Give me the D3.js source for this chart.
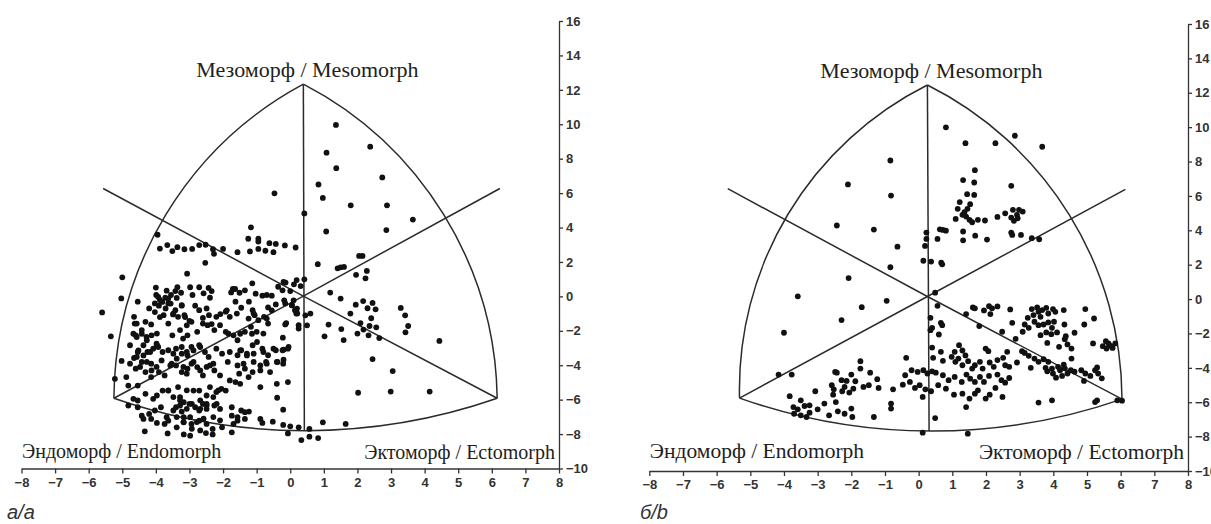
<!DOCTYPE html>
<head>
    <meta charset="utf-8">
    <title>Somatochart</title>
    <style>
        body { margin: 0; background: #fff; }
        .axis text { font-family: "Liberation Sans Narrow", "Liberation Sans", Arial, sans-serif; font-size: 13px; font-weight: bold; fill: #333; }
        .axis path, .axis line { stroke: #333; stroke-width: 1.3; }
        .frame { fill: none; stroke: #2b2b2b; stroke-width: 1.5; }
        .zone { font-family: "Liberation Serif", "Times New Roman", serif; fill: #1e1e1e; }
        .caption { font-family: "Liberation Sans Narrow", "Liberation Sans", Arial, sans-serif; font-style: italic; font-size: 20px; fill: #333; }
    </style>
</head>
<body>

<script src="https://d3js.org/d3.v7.min.js"></script>

<script>

    const xTicks = [-8, -7, -6, -5, -4, -3, -2, -1, 0, 1, 2, 3, 4, 5, 6, 7, 8];
    const yTicks = [-10, -8, -6, -4, -2, 0, 2, 4, 6, 8, 10, 12, 14, 16];

    const zoneNames = ['Мезоморф / Mesomorph', 'Эндоморф / Endomorph', 'Эктоморф / Ectomorph'];
    const captions = ['а/a', 'б/b'];

    // somatochart outline points (data units): top, center, left, right, bottom, upper-left end, upper-right end, left arc mid, right arc mid
    const outlineA = [[0.39, 12.33], [0.39, 0.02], [-5.25, -5.92], [6.16, -5.92], [0.42, -7.8], [-5.57, 6.27], [6.24, 6.27], [-3.8, 4.43], [4.64, 4.52]];
    const outlineB = [[0.26, 12.45], [0.26, 0.15], [-5.32, -5.76], [6.04, -5.82], [0.31, -7.68], [-5.67, 6.42], [6.14, 6.38], [-3.97, 4.64], [4.52, 4.76]];

    // somatoplots, panel a
    const somaA = [
        [1.36,9.96],[2.38,8.70],[1.08,8.35],[1.37,7.45],[2.74,6.91],[0.84,6.50],[0.97,5.72],[1.80,5.29],[2.88,5.29],[0.42,4.82],
        [3.65,4.46],[2.86,3.85],[1.07,3.77],[0.82,1.87],[1.41,1.63],[1.5,1.69],[1.6,1.71],[2.05,2.35],[2.15,2.35],[2.28,1.48],
        [1.96,1.25],[2.24,1.05],[0.42,0.99],
        [-0.47,5.99],[-1.17,4.01],[-3.95,3.58],[-1.25,3.35],[-0.95,3.35],[-0.95,3.19],[-0.62,3.09],[-0.43,3.05],[-0.16,2.96],
        [0.16,2.84],[-3.88,2.78],[-3.66,2.98],[-3.51,2.63],[-3.36,2.86],[-3.15,2.74],[-2.92,2.76],[-2.71,2.98],[-2.52,3.0],
        [-2.30,2.74],[-2.0,2.76],[-2.27,2.47],[-1.57,2.57],[-1.2,2.61],[-0.95,2.76],[-0.74,2.65],[-0.5,2.57],[-2.53,1.95],
        [-3.07,1.32],[-5.0,1.11],[-5.03,-0.12],[-5.6,-0.93],[-5.34,-2.32],
        [-0.14,0.8],[0.11,0.7],[0.31,0.6],[0.19,0.95],[-1.13,0.76],[-1.71,0.43],[-1.64,0.43],[-0.2,0.84],[0,0.31],
        [-0.18,-0.23],[0.1,-0.23],[0.05,-0.52],[0.2,-0.71],[0.18,-1.0],[0.45,-1.1],[0.6,-1.0],[0.5,-1.68],[0.25,-1.87],
        [-0.12,-1.55],[-0.22,-2.4],[-0.05,-2.94],[-0.2,-3.1],[-0.2,-3.68],
        [1.19,0.22],[1.50,-0.13],[2.17,-0.27],[2.45,-0.38],[1.95,-0.48],[2.3,-0.69],[2.54,-0.75],[1.79,-1.0],[2.41,-1.27],
        [2.09,-1.55],[2.36,-1.72],[2.56,-1.8],[2.18,-1.93],[2.33,-2.26],[2.0,-2.16],[2.65,-2.42],[1.14,-1.64],[1.52,-1.9],
        [1.02,-2.32],[1.59,-2.54],[3.29,-0.67],[3.42,-1.1],[3.51,-1.72],[3.43,-2.09],[4.44,-2.59],[2.45,-3.64],[3.05,-4.34],
        [2.02,-5.6],[2.99,-5.53],[4.15,-5.53],[0.97,-7.32],[1.65,-7.41],
        [-4.0,0.51],[-3.99,0.08],[-3.88,-0.21],[-3.72,-0.08],[-3.68,0.33],[-3.55,0.08],[-3.42,0.31],[-3.36,0.53],[-3.25,0.21],
        [-2.98,0.53],[-2.91,0.08],[-2.71,0.53],[-2.58,0.18],[-2.43,0.49],[-2.39,-0.08],[-2.34,0.31],[-1.76,0.23],[-1.51,0.21],
        [-1.35,0.35],[-1.03,0.16],[-0.83,0.04],[-0.7,0.08],[-0.55,0.04],[-0.36,0.56],[-0.23,0.35],
        [-4.54,-0.31],[-4.2,-0.7],[-4.03,-0.41],[-3.91,-0.54],[-3.77,-1.09],[-3.71,-0.7],[-3.63,-0.41],[-3.49,-1.05],[-3.42,-0.8],
        [-3.34,-1.19],[-3.23,-0.54],[-3.15,-1.09],[-3.0,-1.42],[-2.83,-0.54],[-2.71,-0.8],[-2.6,-1.25],[-2.49,-0.7],[-2.42,-1.09],
        [-2.34,-1.61],[-2.2,-1.19],[-2.08,-1.03],[-1.92,-0.89],[-1.8,-1.19],[-1.63,-0.31],[-1.46,-0.66],[-1.23,-0.31],[-1.12,-0.8],
        [-1.06,-1.09],[-0.95,-1.38],[-0.78,-1.19],[-0.66,-0.64],[-0.43,-0.47],[-0.15,-0.41],[0.05,-0.51],[0.14,-0.8],[0.21,-0.99],
        [-4.65,-1.19],[-4.63,-1.58],[-4.31,-1.48],[-4.14,-1.63],[-4.42,-1.96],[-4.28,-2.35],[-3.97,-2.16],[-3.63,-1.58],[-3.51,-2.26],
        [-3.28,-1.96],[-3.19,-2.45],[-3.06,-2.26],[-2.94,-1.48],[-2.77,-2.06],[-2.6,-1.58],[-2.46,-1.67],[-2.26,-1.96],[-2.09,-1.67],
        [-1.92,-2.06],[-1.69,-2.26],[-1.57,-2.55],[-1.35,-2.06],[-1.17,-1.77],[-1.0,-2.06],[-0.8,-2.16],[-0.66,-1.58],[-0.15,-1.63],
        [0.25,-1.67],
        [-4.77,-2.84],[-4.6,-2.26],[-4.54,-3.23],[-4.37,-2.84],[-4.25,-3.23],[-4.08,-3.04],[-3.97,-2.84],[-3.8,-3.23],[-3.63,-3.13],
        [-3.4,-3.04],[-3.23,-3.33],[-3.06,-3.42],[-2.94,-2.94],[-2.71,-2.84],[-2.54,-3.23],[-2.43,-3.52],[-2.2,-3.04],[-2.03,-3.33],
        [-1.8,-3.23],[-1.57,-3.42],[-1.46,-3.13],[-1.29,-3.33],[-1.12,-2.84],[-0.83,-3.04],[-0.66,-3.42],[-0.43,-3.13],[-0.23,-3.13],
        [-0.07,-3.04],[-5.02,-3.75],[-4.65,-3.58],[-4.42,-3.81],[-4.14,-3.91],
        [-4.88,-4.69],[-4.6,-4.2],[-4.54,-5.18],[-4.31,-4.4],[-4.14,-4.69],[-3.91,-4.4],[-3.74,-4.59],[-3.57,-4.01],[-3.4,-4.01],
        [-3.23,-4.4],[-3.06,-4.2],[-2.94,-3.91],[-2.77,-4.11],[-2.6,-4.59],[-2.39,-4.01],[-2.26,-4.3],[-2.09,-4.59],[-1.86,-3.81],
        [-1.8,-4.88],[-1.57,-4.01],[-1.52,-4.49],[-1.35,-4.2],[-1.12,-4.4],[-0.89,-4.01],[-0.72,-3.81],[-0.6,-4.4],[-0.38,-3.81],
        [-0.21,-3.91],
        [-5.22,-4.79],[-4.82,-5.18],[-4.67,-5.95],[-4.54,-6.05],[-4.31,-5.66],[-4.08,-5.95],[-3.97,-5.76],[-3.8,-5.47],[-3.63,-5.47],
        [-3.34,-5.27],[-3.28,-5.86],[-3.17,-6.15],[-2.88,-5.47],[-2.71,-5.47],[-2.49,-5.76],[-2.39,-5.27],[-2.2,-5.56],[-2.05,-5.37],
        [-1.92,-5.47],[-1.63,-4.98],[-0.89,-5.27],[-0.39,-5.89],[-0.07,-4.98],
        [-4.82,-6.34],[-4.54,-6.44],[-4.42,-6.93],[-4.2,-6.83],[-4.03,-6.63],[-3.85,-6.44],[-3.68,-7.02],[-3.4,-6.44],[-3.23,-6.69],
        [-3.17,-7.02],[-3.0,-6.25],[-2.83,-6.44],[-2.71,-6.63],[-2.6,-6.25],[-2.49,-6.54],[-2.26,-6.34],[-2.09,-6.54],[-1.74,-6.44],
        [-1.46,-6.63],[-1.35,-6.73],[-1.23,-6.69],[-1.74,-6.93],[-1.57,-7.02],[-0.21,-6.58],[-0.89,-7.12],
        [-4.37,-7.12],[-4.14,-7.12],[-3.97,-7.35],[-3.74,-7.41],[-3.63,-7.22],[-3.38,-7.61],[-3.17,-7.32],[-2.94,-7.41],[-2.71,-7.22],
        [-2.49,-7.41],[-2.31,-7.7],[-2.03,-7.61],[-1.69,-7.41],[-1.57,-7.22],[-1.35,-7.12],[-0.83,-7.35],[-0.52,-7.28],[-0.21,-7.47],
        [0,-7.55],[0.25,-7.61],[0.57,-7.7],[-4.33,-7.84],[-3.65,-7.96],[-3.17,-8.02],[-2.98,-8.09],[-2.51,-7.94],[-2.31,-8.02],
        [-1.74,-7.9],[-0.07,-7.96],[0.33,-8.35],[0.57,-8.15],[0.83,-8.23],
        [-4.67,-2.17],[-4.57,-2.36],[-4.42,-2.17],[-4.27,-2.55],[-4.13,-2.26],[-3.98,-2.75],[-4.52,-3.14],[-4.37,-3.43],[-4.17,-3.23],
        [-3.93,-2.94],[-4.77,-3.91],[-4.57,-3.52],[-4.47,-4.1],[-4.27,-3.81],[-4.13,-4.3],[-3.98,-4.1],[-3.83,-3.72],
        [-3.48,-3.33],[-3.23,-2.94],[-3.08,-3.23],[-2.88,-3.14],[-2.68,-2.94],[-3.53,-3.91],[-3.38,-3.62],[-3.18,-4.1],[-3.08,-4.49],
        [-2.88,-3.81],[-2.68,-4.3],[-2.49,-4.1],[-2.29,-3.91],
        [-3.63,-5.46],[-3.48,-5.85],[-3.28,-6.04],[-3.08,-5.46],[-2.93,-6.24],[-2.68,-6.04],[-2.49,-6.24],[-2.29,-5.85],[-2.14,-5.46],
        [-3.48,-6.63],[-3.28,-6.34],[-3.08,-6.53],[-2.68,-6.53],[-2.49,-6.34],[-2.19,-6.24],[-3.38,-7.01],[-3.18,-7.3],[-2.98,-7.01],
        [-2.78,-7.3],[-2.58,-7.11],[-2.29,-7.01],[-2.09,-7.2],[-2.93,-7.69],[-2.68,-7.79],
        [-1.49,-3.14],[-1.29,-3.43],[-1.09,-3.33],[-0.8,-3.23],[-0.5,-3.04],[-1.39,-3.91],[-1.09,-3.81],[-0.89,-4.3],[-0.7,-3.91],
        [-0.4,-3.81],[-1.49,-5.08],[-1.24,-4.69],[-0.4,-5.08],
        [-1.89,-0.81],[-1.59,-1.0],[-1.24,-1.29],[-1.09,-1.0],[-0.7,-1.29],[-0.55,-0.81],[-1.84,-2.17],[-1.49,-2.17],[-1.14,-2.17],
        [-0.99,-2.65],
        [-3.93,-0.03],[-3.81,-0.32],[-3.63,-0.13],[-3.56,-0.42],[-3.38,-0.09],[-3.23,-0.51],[-4.57,-1.58],[-4.03,-0.91],[-3.88,-1.2],
        [-3.48,-1.0],[-3.13,-1.2],[-3.08,-1.68]
    ];

    // somatoplots, panel b
    const somaB = [
        [-0.84,8.06],[-2.1,6.67],[-0.82,6.02],[-2.43,4.28],[-1.33,4.04],[-0.63,3.05],[-0.84,1.85],[-2.08,1.22],[-3.59,0.16],
        [-1.69,-0.47],[-0.95,-0.1],[-2.29,-1.22],[-4.0,-1.96],
        [0.81,9.99],[1.39,9.07],[2.28,9.07],[2.86,9.5],[3.67,8.86],[1.67,7.5],[1.32,6.92],[1.65,6.78],[1.44,6.1],[1.65,6.06],
        [2.75,6.59],[1.22,5.64],[1.53,5.52],[1.16,5.25],[1.45,5.25],[1.1,4.66],[1.3,4.9],[1.41,4.8],[1.51,4.61],[1.59,4.47],
        [1.76,4.61],[1.97,4.57],[1.36,5.05],[2.34,4.78],[2.57,4.99],[2.75,4.74],[2.83,4.55],[2.92,4.9],[2.98,5.19],[3.09,5.09],
        [2.8,5.19],[2.94,4.7],[2.75,3.87],[3.04,3.73],[2.78,3.73],[1.32,3.93],[1.32,3.42],[1.68,3.69],[2.03,3.46],[3.36,3.54],
        [3.58,3.48],[0.23,3.87],[0.23,3.5],[0.19,3.09],[0.56,3.5],[0.63,4.06],[0.72,4.02],[0.81,3.98],[0.14,2.23],[0.37,2.18],
        [0.67,2.12],[0.7,2.02],[0.49,0.37],
        [0.56,-0.39],[1.41,-0.87],[1.61,-0.49],[1.67,-0.54],[1.94,-0.66],[2.09,-0.41],[2.18,-0.54],[2.13,-0.87],[2.34,-0.43],
        [2.72,-0.6],[3.36,-0.58],[3.52,-0.49],[3.56,-0.74],[3.67,-0.64],[3.79,-0.51],[3.85,-0.84],[3.99,-0.58],[4.06,-0.74],
        [4.31,-0.64],[4.95,-0.58],[5.21,-1.13],[3.24,-1.09],[3.41,-0.93],[3.62,-1.03],[0.35,-1.09],[0.4,-1.67],[0.35,-1.81],
        [0.66,-1.38],[0.7,-1.52],
        [1.8,-1.57],[2.78,-1.38],[3.15,-1.48],[3.27,-1.67],[3.44,-1.32],[3.56,-1.52],[3.71,-1.48],[3.85,-1.36],[3.96,-1.67],
        [4.02,-1.32],[3.79,-1.94],[3.62,-2.1],[3.94,-2.04],[4.33,-1.48],[2.48,-1.9],[3.09,-1.9],[4.92,-1.48],[4.11,-1.94],
        [4.37,-2.16],[4.63,-1.96],[0.6,-2.06],
        [2.88,-2.31],[3.82,-2.55],[4.34,-2.33],[4.42,-2.64],[5.18,-2.58],[5.56,-2.45],[5.64,-2.58],[5.7,-2.72],[5.47,-2.74],
        [5.76,-2.84],[5.58,-2.88],[5.84,-2.58],[0.4,-2.82],[0.66,-3.07],[1.07,-3.07],[1.2,-2.68],[1.3,-2.99],[1.39,-3.28],
        [1.99,-2.88],[2.07,-3.03],[2.63,-3.07],[3.07,-3.03],[3.15,-3.13],[4.17,-2.78],[4.54,-2.88],
        [-0.37,-3.42],[-1.73,-3.61],[0.43,-3.42],[0.72,-3.59],[0.98,-3.36],[1.09,-3.65],[1.18,-3.46],[1.3,-3.85],[1.47,-3.61],
        [1.59,-4.04],[1.67,-3.85],[1.82,-3.65],[1.9,-4.04],[2.11,-3.69],[2.23,-3.94],[2.34,-3.55],[2.51,-3.42],[2.57,-3.85],
        [2.69,-3.94],[2.92,-3.69],[3.27,-3.3],[3.44,-3.46],[3.56,-3.65],[3.71,-3.5],[3.85,-3.65],[3.77,-4.0],[3.96,-4.04],
        [4.14,-3.94],[4.31,-3.81],[4.54,-3.46],[3.33,-4.0],
        [-4.16,-4.39],[-3.77,-4.39],[-2.43,-4.28],[-1.73,-4.04],[-1.44,-4.28],[-0.4,-4.43],[-0.21,-4.14],[-0.03,-4.24],[0.14,-4.14],
        [0.26,-4.33],[0.4,-4.2],[0.51,-4.28],[0.72,-4.43],[0.89,-4.72],[1.07,-4.53],[1.28,-4.82],[1.42,-4.39],[1.53,-4.63],
        [1.67,-4.82],[1.82,-4.53],[1.94,-4.82],[2.09,-4.47],[2.34,-4.39],[2.46,-4.72],[2.69,-4.59],[2.57,-4.86],[3.82,-4.2],
        [3.99,-4.33],[4.08,-4.57],[4.2,-4.14],[4.26,-4.47],[4.34,-4.03],[4.42,-4.33],[4.52,-4.14],[4.63,-4.22],[4.83,-4.14],
        [4.95,-4.33],[5.1,-4.47],[5.24,-4.14],[5.3,-3.98],[5.33,-4.33],[5.44,-4.61],[4.91,-4.76],
        [-3.83,-5.65],[-3.5,-5.89],[-3.39,-6.22],[-3.07,-5.36],[-2.58,-5.01],[-2.52,-5.25],[-2.54,-5.56],[-2.48,-4.24],[-2.29,-4.72],
        [-2.14,-4.76],[-2.0,-4.39],[-2.2,-5.11],[-2.27,-5.36],[-2.06,-5.44],[-1.94,-5.21],[-1.88,-4.78],[-1.64,-5.11],[-1.48,-5.01],
        [-1.23,-4.66],[-1.19,-5.17],[-0.76,-5.25],[-0.47,-4.98],[-0.26,-4.82],[-0.11,-5.17],[0.03,-5.01],[0.2,-5.25],[0.37,-5.36],
        [0.58,-5.01],[0.81,-5.21],[1.05,-5.56],[1.3,-5.5],[1.51,-5.79],[1.67,-5.5],[1.76,-5.31],[1.99,-5.79],[2.11,-5.56],
        [2.28,-5.17],[2.49,-5.69],[3.56,-6.02],[3.96,-5.89],[5.24,-5.99],[5.3,-5.89],[5.9,-5.89],[6.04,-5.91],[0.12,-5.69],
        [-3.7,-6.67],[-3.59,-6.41],[-3.24,-6.61],[-3.0,-6.41],[-2.8,-6.08],[-2.66,-6.76],[-2.46,-5.99],[-2.4,-6.53],[-2.2,-6.67],
        [-2.0,-6.37],[-1.97,-6.86],[-3.24,-6.18],[-3.72,-6.28],[-3.33,-6.86],[-3.5,-6.76],[-1.33,-6.86],[-0.82,-6.08],[-0.82,-6.37],
        [0.49,-6.92],[1.41,-6.28],[0.12,-7.77],[1.46,-7.83]
    ];

    const panels = [
        { dots: somaA, outline: outlineA, caption: captions[0], xRange: [21.5, 559], yRange: [468.5, 21], captionX: 7, bottomFont: 20 },
        { dots: somaB, outline: outlineB, caption: captions[1], xRange: [649.3, 1188], yRange: [471, 24], captionX: 640, bottomFont: 21.5 }
    ];

    const svg = d3.select('body').append('svg')
        .attr('width', 1211)
        .attr('height', 524);

    // circle through three points, returned as an svg arc path
    function arcPath(p1, p2, p3) {
        const ax = p1[0], ay = p1[1], bx = p2[0], by = p2[1], cx = p3[0], cy = p3[1];
        const d = 2 * (ax * (by - cy) + bx * (cy - ay) + cx * (ay - by));
        const ux = ((ax*ax + ay*ay) * (by - cy) + (bx*bx + by*by) * (cy - ay) + (cx*cx + cy*cy) * (ay - by)) / d;
        const uy = ((ax*ax + ay*ay) * (cx - bx) + (bx*bx + by*by) * (ax - cx) + (cx*cx + cy*cy) * (bx - ax)) / d;
        const r = Math.hypot(ax - ux, ay - uy);
        const cross = (bx - ax) * (cy - ay) - (by - ay) * (cx - ax);
        const sweep = cross > 0 ? 1 : 0;
        return 'M' + ax + ',' + ay + 'A' + r + ',' + r + ' 0 0 ' + sweep + ' ' + cx + ',' + cy;
    }

    panels.forEach(p => {
        const x = d3.scaleLinear().domain([-8, 8]).range(p.xRange);
        const y = d3.scaleLinear().domain([-10, 16]).range(p.yRange);
        const g = svg.append('g');
        const pt = d => [x(d[0]), y(d[1])];

        const [top, center, left, right, bottom, ulEnd, urEnd, leftMid, rightMid] = p.outline.map(pt);

        // axes
        g.append('g')
            .attr('class', 'axis')
            .attr('transform', 'translate(0,' + y(-10) + ')')
            .call(d3.axisBottom(x).tickValues(xTicks).tickSize(5).tickSizeOuter(0).tickPadding(4));

        g.append('g')
            .attr('class', 'axis')
            .attr('transform', 'translate(' + x(8) + ',0)')
            .call(d3.axisRight(y).tickValues(yTicks).tickSize(4).tickSizeOuter(0).tickPadding(3));

        // outline of the somatochart
        g.append('path').attr('class', 'frame').attr('d', arcPath(top, leftMid, left));
        g.append('path').attr('class', 'frame').attr('d', arcPath(top, rightMid, right));
        g.append('path').attr('class', 'frame').attr('d', arcPath(left, bottom, right));
        g.append('path').attr('class', 'frame').attr('d', d3.line()([top, bottom]));
        g.append('path').attr('class', 'frame').attr('d', d3.line()([ulEnd, center, right]));
        g.append('path').attr('class', 'frame').attr('d', d3.line()([urEnd, center, left]));

        // somatoplots
        g.selectAll('.dot')
            .data(p.dots)
            .enter().append('circle')
            .attr('class', 'dot')
            .attr('cx', d => x(d[0]))
            .attr('cy', d => y(d[1]))
            .attr('r', 2.9)
            .attr('fill', '#111');

        // zone names
        g.append('text').attr('class', 'zone')
            .attr('x', top[0] + 4).attr('y', top[1] - 7)
            .attr('text-anchor', 'middle')
            .style('font-size', '22px')
            .text(zoneNames[0]);
        g.append('text').attr('class', 'zone')
            .attr('x', x(-8) + 0.5).attr('y', 458)
            .style('font-size', p.bottomFont + 'px')
            .text(zoneNames[1]);
        g.append('text').attr('class', 'zone')
            .attr('x', x(8) - 4).attr('y', 459)
            .attr('text-anchor', 'end')
            .style('font-size', p.bottomFont + 'px')
            .text(zoneNames[2]);

        svg.append('text').attr('class', 'caption')
            .attr('x', p.captionX).attr('y', 519)
            .text(p.caption);
    });

</script>

</body>
